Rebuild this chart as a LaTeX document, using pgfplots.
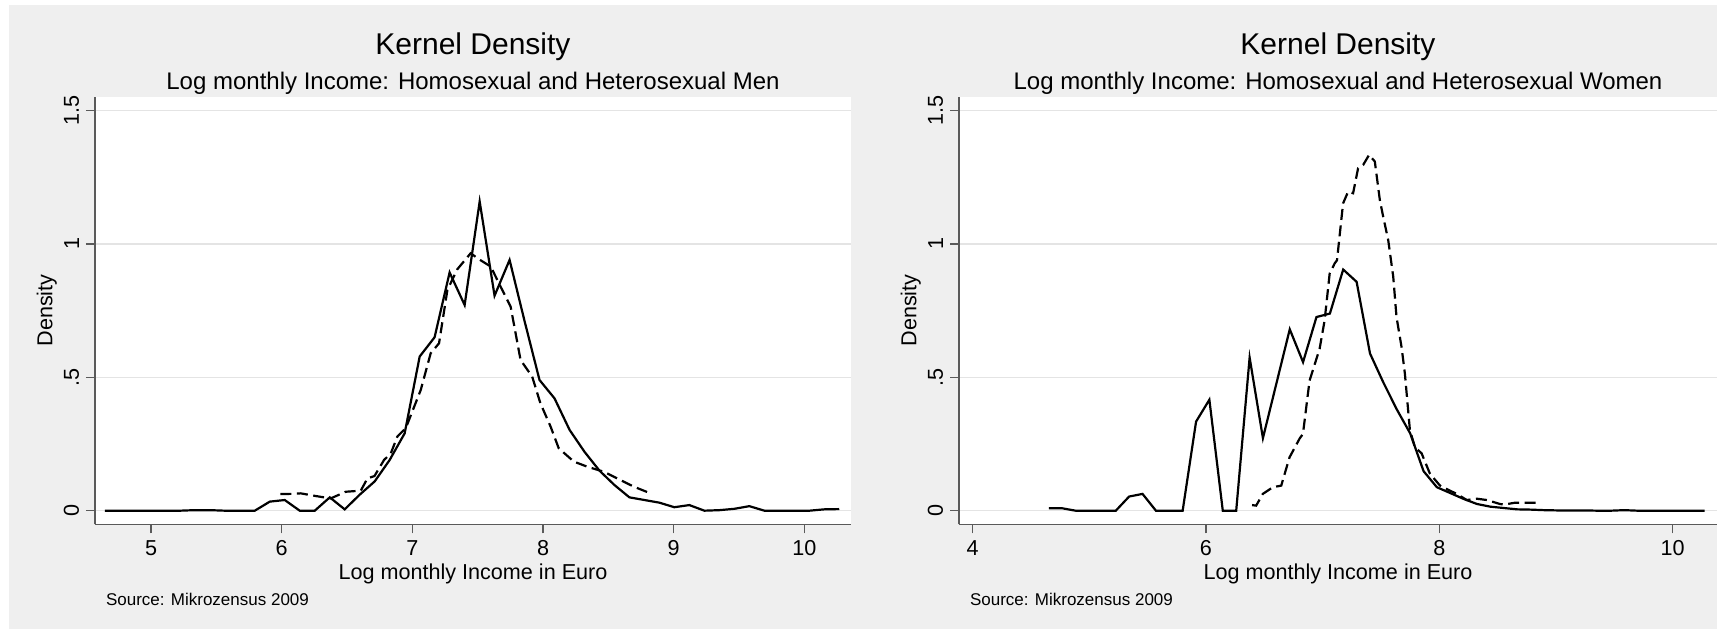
\documentclass[border=0pt]{standalone}
\usepackage{fontspec}
\setmainfont{Liberation Sans}
\usepackage{pgfplots}
\pgfplotsset{compat=1.18}
\definecolor{bggray}{HTML}{EFEFEF}
\definecolor{gridgray}{HTML}{E4E4E4}
\definecolor{axisgray}{HTML}{5A5A5A}

\pgfplotsset{kd/.style={
  scale only axis, height=213.8pt,
  ymin=-0.051, ymax=1.552,
  axis lines*=left, axis line style={-, axisgray, line width=0.65pt},
  axis background/.style={fill=white},
  ytick={0,0.5,1,1.5}, yticklabels={0,.5,1,1.5},
  ymajorgrids, grid style={gridgray, line width=0.8pt},
  tick align=outside, major tick length=4.5pt,
  tick style={axisgray, line width=0.65pt},
  /pgf/number format/assume math mode=true,
  tick label style={font=\fontsize{10.8}{12}\selectfont, inner sep=0pt, black},
  yticklabel style={xshift=-3.25pt, rotate=90, anchor=south},
  xticklabel style={anchor=north, yshift=-3.5pt},
  clip=false,
  solidc/.style={black, line width=1.1pt},
  dashc/.style={black, line width=1.1pt, dash pattern=on 5.5pt off 2.75pt},
}}

\newcommand{\decor}[1]{%
  \node[anchor=base, font=\fontsize{15}{18}\selectfont] at ([yshift=21.15pt]rel axis cs:0.5,1) {Kernel Density};
  \node[anchor=base, font=\fontsize{12}{14}\selectfont] at ([yshift=3.65pt]rel axis cs:0.5,1) {#1};
  \node[anchor=base, font=\fontsize{10.8}{12}\selectfont] at ([yshift=-27.85pt]rel axis cs:0.5,0) {Log monthly Income in Euro};
  \node[anchor=base, rotate=90, font=\fontsize{10.8}{12}\selectfont] at ([xshift=-21.35pt]rel axis cs:0,0.5) {Density};
  \node[anchor=base west, font=\fontsize{8.5}{10}\selectfont] at ([xshift=2pt,yshift=-40.85pt]rel axis cs:0,0) {Source: Mikrozensus 2009};
}

\begin{document}
\begin{tikzpicture}
\path[use as bounding box] (0,0) rectangle (863pt,315pt);
\fill[white] (0,0) rectangle (863pt,315pt);
\fill[bggray] (4.5pt,0.25pt) rectangle (858.5pt,312.5pt);

% Left panel: men
\begin{axis}[kd, at={(47.5pt,52.85pt)}, anchor=south west, width=378pt,
  xmin=4.571, xmax=10.357, xtick={5,6,7,8,9,10}, xticklabels={5,6,7,8,9,10}]
\addplot[solidc] coordinates {
(4.647,0) (4.762,0) (4.876,0) (4.991,0) (5.106,0) (5.221,0) (5.335,0.002) (5.450,0.002)
(5.565,0) (5.679,0) (5.794,0) (5.909,0.034) (6.023,0.04) (6.138,0) (6.253,0) (6.368,0.05)
(6.482,0.005) (6.597,0.06) (6.712,0.11) (6.826,0.19) (6.941,0.29) (7.056,0.578) (7.170,0.65)
(7.285,0.893) (7.400,0.771) (7.515,1.159) (7.629,0.806) (7.744,0.94) (7.859,0.71) (7.973,0.49)
(8.088,0.421) (8.203,0.303) (8.317,0.221) (8.432,0.15) (8.547,0.096) (8.661,0.05) (8.776,0.04)
(8.891,0.03) (9.005,0.013) (9.120,0.021) (9.235,0) (9.350,0.002) (9.464,0.007) (9.579,0.017)
(9.694,0) (9.808,0) (9.923,0) (10.038,0) (10.152,0.005) (10.267,0.006)
};
\addplot[dashc] coordinates {
(5.99,0.0625) (6.07,0.063) (6.145,0.065) (6.26,0.055) (6.375,0.046) (6.49,0.071) (6.605,0.075)
(6.656,0.121) (6.71,0.13) (6.783,0.19) (6.835,0.215) (6.885,0.278) (6.95,0.31) (7.064,0.4525)
(7.14,0.59) (7.204,0.6275) (7.268,0.8275) (7.344,0.905) (7.446,0.965) (7.51,0.9425) (7.6,0.915)
(7.675,0.84) (7.752,0.765) (7.828,0.565) (7.917,0.5025) (7.98,0.4025) (8.058,0.315) (8.12,0.234)
(8.236,0.184) (8.338,0.165) (8.465,0.146) (8.567,0.121) (8.695,0.09) (8.822,0.065)
};
\decor{Log monthly Income: Homosexual and Heterosexual Men}
\end{axis}

% Right panel: women
\begin{axis}[kd, at={(479.5pt,52.85pt)}, anchor=south west, width=379pt,
  xmin=3.883, xmax=10.38, xtick={4,6,8,10}, xticklabels={4,6,8,10}]
\addplot[solidc] coordinates {
(4.653,0.009) (4.768,0.009) (4.882,0) (4.997,0) (5.112,0) (5.227,0) (5.341,0.053) (5.456,0.063)
(5.571,0) (5.685,0) (5.800,0) (5.915,0.334) (6.029,0.416) (6.144,0) (6.259,0) (6.374,0.574)
(6.488,0.272) (6.603,0.476) (6.718,0.68) (6.832,0.557) (6.947,0.726) (7.062,0.739) (7.176,0.904)
(7.291,0.858) (7.406,0.589) (7.521,0.48) (7.635,0.38) (7.750,0.29) (7.865,0.148) (7.979,0.088)
(8.094,0.066) (8.209,0.044) (8.323,0.025) (8.438,0.015) (8.553,0.01) (8.668,0.005) (8.782,0.004)
(8.897,0.002) (9.012,0.001) (9.126,0.001) (9.241,0.001) (9.356,0) (9.471,0) (9.585,0.002)
(9.700,0) (9.815,0) (9.929,0) (10.044,0) (10.159,0) (10.274,0)
};
\addplot[dashc] coordinates {
(6.395,0.021) (6.43,0.019) (6.487,0.063) (6.573,0.088) (6.645,0.094) (6.716,0.2) (6.802,0.27)
(6.831,0.288) (6.888,0.488) (6.974,0.607) (7.017,0.714) (7.06,0.889) (7.103,0.927) (7.123,0.939)
(7.175,1.152) (7.218,1.196) (7.261,1.19) (7.304,1.284) (7.347,1.296) (7.398,1.334) (7.447,1.309)
(7.49,1.165) (7.519,1.102) (7.562,1.014) (7.605,0.877) (7.633,0.726) (7.676,0.614) (7.705,0.513)
(7.748,0.301) (7.791,0.238) (7.848,0.215) (7.92,0.138) (8.006,0.094) (8.077,0.078) (8.149,0.063)
(8.235,0.04) (8.32,0.045) (8.407,0.04) (8.52,0.025) (8.557,0.023) (8.65,0.03) (8.825,0.03)
};
\decor{Log monthly Income: Homosexual and Heterosexual Women}
\end{axis}
\end{tikzpicture}
\end{document}
